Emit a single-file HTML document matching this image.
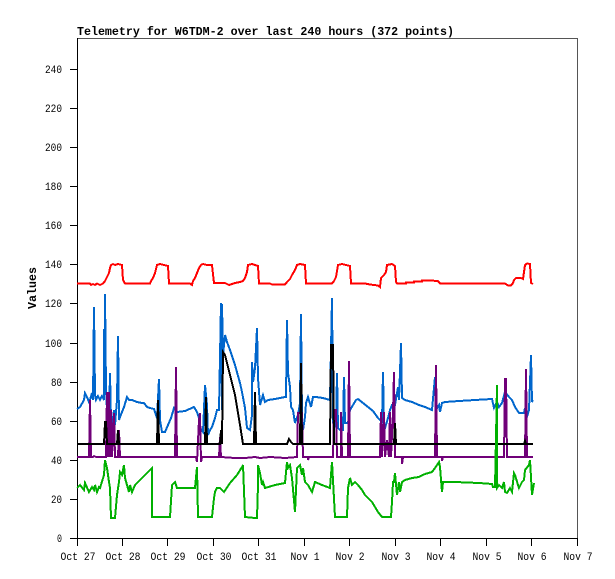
<!DOCTYPE html>
<html><head><meta charset="utf-8"><style>
html,body{margin:0;padding:0;background:#fff;}
svg{display:block;}
.t{font-family:"Liberation Mono",monospace;font-size:11px;fill:#000;}
</style></head><body>
<svg width="615" height="579" viewBox="0 0 615 579" xmlns="http://www.w3.org/2000/svg">
<rect width="615" height="579" fill="#fff"/>
<text x="77" y="35" font-family="Liberation Mono, monospace" font-weight="bold" font-size="12" textLength="377" lengthAdjust="spacingAndGlyphs">Telemetry for W6TDM-2 over last 240 hours (372 points)</text>
<g shape-rendering="crispEdges">
<line x1="77" y1="38.5" x2="578" y2="38.5" stroke="#555" stroke-width="1"/>
<line x1="577.5" y1="38" x2="577.5" y2="538" stroke="#555" stroke-width="1"/>
<line x1="77.5" y1="38" x2="77.5" y2="539" stroke="#000" stroke-width="1"/>
<line x1="77" y1="538.5" x2="578" y2="538.5" stroke="#000" stroke-width="1"/>
</g>
<g stroke="#000" stroke-width="1" shape-rendering="crispEdges">
<line x1="70" y1="538.5" x2="77" y2="538.5"/>
<line x1="70" y1="499.5" x2="77" y2="499.5"/>
<line x1="70" y1="460.5" x2="77" y2="460.5"/>
<line x1="70" y1="421.5" x2="77" y2="421.5"/>
<line x1="70" y1="382.5" x2="77" y2="382.5"/>
<line x1="70" y1="343.5" x2="77" y2="343.5"/>
<line x1="70" y1="303.5" x2="77" y2="303.5"/>
<line x1="70" y1="264.5" x2="77" y2="264.5"/>
<line x1="70" y1="225.5" x2="77" y2="225.5"/>
<line x1="70" y1="186.5" x2="77" y2="186.5"/>
<line x1="70" y1="147.5" x2="77" y2="147.5"/>
<line x1="70" y1="108.5" x2="77" y2="108.5"/>
<line x1="70" y1="69.5" x2="77" y2="69.5"/>
<line x1="77.5" y1="538" x2="77.5" y2="546"/>
<line x1="122.5" y1="538" x2="122.5" y2="546"/>
<line x1="167.5" y1="538" x2="167.5" y2="546"/>
<line x1="213.5" y1="538" x2="213.5" y2="546"/>
<line x1="258.5" y1="538" x2="258.5" y2="546"/>
<line x1="304.5" y1="538" x2="304.5" y2="546"/>
<line x1="349.5" y1="538" x2="349.5" y2="546"/>
<line x1="395.5" y1="538" x2="395.5" y2="546"/>
<line x1="440.5" y1="538" x2="440.5" y2="546"/>
<line x1="486.5" y1="538" x2="486.5" y2="546"/>
<line x1="531.5" y1="538" x2="531.5" y2="546"/>
<line x1="577.5" y1="538" x2="577.5" y2="546"/>
</g>
<g class="t" text-anchor="end">
<text x="62" y="542" textLength="5" lengthAdjust="spacingAndGlyphs">0</text>
<text x="62" y="503" textLength="11" lengthAdjust="spacingAndGlyphs">20</text>
<text x="62" y="464" textLength="11" lengthAdjust="spacingAndGlyphs">40</text>
<text x="62" y="425" textLength="11" lengthAdjust="spacingAndGlyphs">60</text>
<text x="62" y="386" textLength="11" lengthAdjust="spacingAndGlyphs">80</text>
<text x="62" y="347" textLength="17" lengthAdjust="spacingAndGlyphs">100</text>
<text x="62" y="307" textLength="17" lengthAdjust="spacingAndGlyphs">120</text>
<text x="62" y="268" textLength="17" lengthAdjust="spacingAndGlyphs">140</text>
<text x="62" y="229" textLength="17" lengthAdjust="spacingAndGlyphs">160</text>
<text x="62" y="190" textLength="17" lengthAdjust="spacingAndGlyphs">180</text>
<text x="62" y="151" textLength="17" lengthAdjust="spacingAndGlyphs">200</text>
<text x="62" y="112" textLength="17" lengthAdjust="spacingAndGlyphs">220</text>
<text x="62" y="73" textLength="17" lengthAdjust="spacingAndGlyphs">240</text>
</g>
<g class="t" text-anchor="middle">
<text x="78" y="560" textLength="35" lengthAdjust="spacingAndGlyphs">Oct 27</text>
<text x="123" y="560" textLength="35" lengthAdjust="spacingAndGlyphs">Oct 28</text>
<text x="168" y="560" textLength="35" lengthAdjust="spacingAndGlyphs">Oct 29</text>
<text x="214" y="560" textLength="35" lengthAdjust="spacingAndGlyphs">Oct 30</text>
<text x="259" y="560" textLength="35" lengthAdjust="spacingAndGlyphs">Oct 31</text>
<text x="305" y="560" textLength="29" lengthAdjust="spacingAndGlyphs">Nov 1</text>
<text x="350" y="560" textLength="29" lengthAdjust="spacingAndGlyphs">Nov 2</text>
<text x="396" y="560" textLength="29" lengthAdjust="spacingAndGlyphs">Nov 3</text>
<text x="441" y="560" textLength="29" lengthAdjust="spacingAndGlyphs">Nov 4</text>
<text x="487" y="560" textLength="29" lengthAdjust="spacingAndGlyphs">Nov 5</text>
<text x="532" y="560" textLength="29" lengthAdjust="spacingAndGlyphs">Nov 6</text>
<text x="578" y="560" textLength="29" lengthAdjust="spacingAndGlyphs">Nov 7</text>
</g>
<text transform="translate(36,288) rotate(-90)" text-anchor="middle" font-family="Liberation Mono, monospace" font-weight="bold" font-size="12" textLength="42" lengthAdjust="spacingAndGlyphs">Values</text>
<g fill="none" stroke-width="2" stroke-linejoin="miter" shape-rendering="crispEdges">
<polyline stroke="#ff0000" points="77,283.5 90,283.5 91,285 93,284 95,285 97,283.5 100,285 103,283.5 105,281 107,277 109,273 110,268 111,265 113,264 115,265 118,264 122,265 123,280 125,283.5 150,283.5 151,281 153,278 155,273 157,265 160,264 164,265 168,266 169,283.5 190,283.5 192,285 193,281 195,278 197,273 199,268 201,265 203,264 207,265 212,265 214,283 225,283 229,285 235,283 240,282 243,281 245,278 247,272 248,265 252,264 255,265 258,266 259,283.5 270,283.5 272,284.5 285,284.5 287,282 290,279 292,275 295,270 297,265 300,264 305,265 306,283.5 332,283.5 334,281 336,277 338,265 342,264 346,265 350,266 351,283.5 365,283.5 370,284.5 378,285.5 380,287 381,278 384,275 386,272 387,265 392,264 395,266 396,282 397,283.5 406,283.5 406,282.5 414,282.5 414,281.5 422,281.5 422,280.5 430,280.5 438,281 440,283.5 505,283.5 508,285.5 511,285.5 513,283 514,280 516,278 521,278 523,279 524,272 525,265 527,263.5 530,264 531,283 533,284"/>
<polyline stroke="#0066cc" points="77,409 80,407 84,400 85,393 87,397 89,402 90,400 92,393 93,400 94,307 95,395 96,400 98,396 100,400 102,396 104,400 104,329 105,395 105,294 106,390 107,410 108,400 109,425 110,373 111,420 112,427 114,410 115,425 117,400 118,336 119,420 120,417 124,407 127,397 129,400 132,400 137,402 142,403 144,403 147,407 150,408 154,409 157,418 159,379 160,420 162,432 165,432 168,425 171,418 174,408 177,412 185,411 194,407 197,412 199,418 200,428 203,432 205,385 207,405 208,435 210,430 212,427 215,418 217,410 219,410 221,303 222,410 222,304 223,355 225,335 227,342 230,350 235,365 240,383 242,392 245,408 247,428 250,430 252,415 252,362 253,382 255,368 257,328 258,378 260,405 263,395 265,402 268,400 275,399 285,397 286,397 287,320 288,373 290,387 291,407 293,410 295,423 296,420 298,415 300,403 301,314 302,420 303,430 305,417 306,403 308,397 311,407 313,397 316,397 323,398 330,400 332,298 333,423 336,427 337,373 338,428 340,430 343,430 344,377 345,423 348,423 350,410 353,405 356,400 358,399 363,403 368,407 373,411 378,418 382,422 383,372 384,425 385,428 388,418 390,410 392,405 395,405 398,387 399,400 401,343 402,398 405,400 412,402 419,405 425,407 432,410 435,377 436,410 439,405 440,412 442,403 445,402 459,401 475,400 492,399 494,408 497,402 499,407 502,403 505,392 509,397 512,400 515,407 519,413 524,413 525,408 527,417 529,410 531,355 532,402 533,400"/>
<polyline stroke="#700078" points="77,457 89,457 90,400 91,457 93,457 94,456 96,457 106,457 107,392 108,457 109,392 110,457 111,410 112,457 114,413 115,457 118,457 119,430 120,457 175,457 176,367 177,457 196,457 197,462 199,420 200,413 201,462 202,457 219,457 220,437 221,457 235,458 245,458 255,457 260,458 270,457 285,458 297,457 298,413 302,413 303,457 308,457 308,460 309,457 333,457 334,410 336,410 337,457 341,457 341,412 342,457 348,457 349,361 350,457 380,457 381,412 382,457 384,412 385,457 387,440 389,457 390,412 391,457 393,412 394,372 395,457 402,457 402,464 403,457 435,457 436,365 437,457 442,457 442,461 443,457 504,457 505,379 506,379 507,457 525,457 526,369 527,457 533,457"/>
<polyline stroke="#000000" points="77,444 104,444 105,422 106,422 107,444 117,444 118,430 119,444 157,444 158,400 159,444 205,444 206,397 207,444 220,444 221,430 222,444 223,352 225,355 230,375 235,395 240,425 243,444 254,444 255,392 256,444 287,444 289,439 291,442 293,444 300,444 301,363 302,444 330,444 331,345 333,345 334,444 394,444 395,423 396,444 524,444 525,441 526,444 533,444"/>
<polyline stroke="#00b000" points="77,488 80,485 84,490 85,483 89,492 92,487 94,490 95,485 97,492 99,487 100,488 104,475 105,460 107,468 109,482 110,488 111,518 115,518 117,495 119,482 120,472 122,475 124,465 125,478 127,485 129,492 130,485 132,492 135,485 150,470 152,468 152,517 170,517 172,485 175,482 177,488 195,488 197,467 198,517 212,517 214,498 215,492 217,488 220,488 224,492 230,483 237,475 242,467 243,465 245,517 255,518 257,518 258,485 258,465 260,473 262,485 263,482 265,488 275,485 285,483 287,462 288,468 290,465 292,478 295,512 297,468 300,465 302,475 303,468 305,482 308,485 312,492 315,482 322,485 330,488 332,462 335,517 347,517 348,488 350,478 352,485 355,482 358,485 362,490 365,495 372,502 378,512 382,517 391,517 392,502 393,482 394,482 395,473 397,495 399,482 400,492 402,482 405,480 412,478 419,477 425,474 432,472 435,468 439,462 440,467 442,492 443,482 455,482 479,483 492,484 493,487 495,487 496,437 497,385 497,488 499,485 502,488 504,482 505,492 507,493 510,488 512,492 514,473 515,475 518,485 519,488 522,482 524,480 525,470 529,465 530,460 532,495 534,483"/>
</g>
</svg>
</body></html>
